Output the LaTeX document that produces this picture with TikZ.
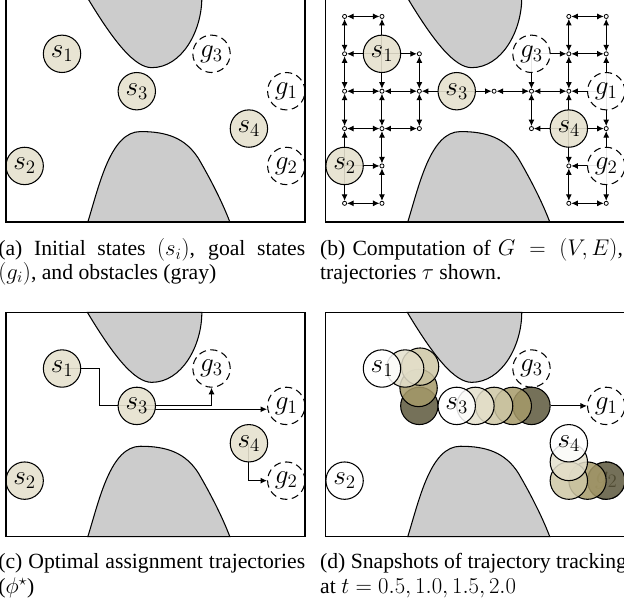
\documentclass[tikz,border=0pt]{standalone}
\usepackage[no-math]{fontspec}
\setmainfont{Liberation Serif}
\usetikzlibrary{arrows.meta,backgrounds}

\definecolor{agentfill}{RGB}{229,225,206}
\definecolor{obstfill}{RGB}{204,204,204}
\definecolor{snapA}{RGB}{228,224,204}
\definecolor{snapB}{RGB}{206,199,165}
\definecolor{snapC}{RGB}{166,154,105}
\definecolor{snapD}{RGB}{93,88,60}

\newcommand\lbl{\fontsize{21}{24}\selectfont}
\newcommand\capfont{\fontsize{16.5}{19}\selectfont}

% the two gray obstacles, in panel coordinates (top-left corner at the origin)
\newcommand\drawobstacles{%
  \draw[obstacle] (2.18,0) .. controls (2.9,-1.2) and (3.45,-1.87) .. (3.9,-1.87)
    .. controls (4.7,-1.87) and (5.24,-0.9) .. (5.24,0) -- cycle;
  \draw[obstacle] (2.19,-6) .. controls (2.5,-5.0) and (2.8,-3.58) .. (3.6,-3.58)
    .. controls (4.3,-3.58) and (4.8,-3.75) .. (5.15,-4.3)
    .. controls (5.5,-4.9) and (5.8,-5.5) .. (5.99,-6) -- cycle;
}
\newcommand\drawframe{\draw[frame] (0,0) rectangle (8,-6);}

\tikzset{
  agent/.style={circle, draw, line width=0.8pt, fill=agentfill, fill opacity=0.9,
    text opacity=1, minimum size=1cm, inner sep=0pt, font=\lbl},
  goal/.style={circle, draw, line width=0.8pt, dash pattern=on 5.5pt off 3.4pt,
    fill=white, fill opacity=0.9, text opacity=1, minimum size=1cm, inner sep=0pt, font=\lbl},
  snap/.style={agent, fill=#1, fill opacity=0.85},
  vtx/.style={circle, draw, line width=0.6pt, fill=white, minimum size=0.11cm, inner sep=0pt},
  traj/.style={line width=0.75pt, -{Latex[length=5pt,width=4.6pt]}},
  bitraj/.style={line width=0.75pt, {Latex[length=5pt,width=4.6pt]}-{Latex[length=5pt,width=4.6pt]}},
  route/.style={line width=0.8pt, -{Latex[length=5pt,width=4.6pt]}},
  obstacle/.style={draw, line width=0.8pt, fill=obstfill},
  frame/.style={draw, line width=0.8pt},
  captext/.style={inner sep=0pt, anchor=base west, font=\capfont},
}

\begin{document}
\begin{tikzpicture}
\useasboundingbox (0,0) rectangle (16.696,-16.160);

% ---------------- (a) initial states and goals ----------------
\begin{scope}[shift={(0.16,0.06)}, name prefix=a-]
  \drawobstacles
  \node[agent] (s1) at (1.5,-1.5) {$s_1$};
  \node[agent] (s3) at (3.5,-2.5) {$s_3$};
  \node[agent] (s4) at (6.5,-3.5) {$s_4$};
  \node[agent] (s2) at (0.5,-4.5) {$s_2$};
  \node[goal] (g3) at (5.5,-1.5) {$g_3$};
  \node[goal] (g1) at (7.5,-2.5) {$g_1$};
  \node[goal] (g2) at (7.5,-4.5) {$g_2$};
  \drawframe
\end{scope}

% ---------------- (b) graph G = (V,E) ----------------
\begin{scope}[shift={(8.72,0.06)}, name prefix=b-]
  \foreach \i/\j in {0/0,1/0,6/0,7/0, 0/1,2/1,6/1,7/1,
                     0/2,1/2,2/2,4/2,5/2,6/2, 0/3,1/3,2/3,5/3,7/3,
                     1/4,6/4, 0/5,1/5,6/5,7/5}
    \node[vtx] (v\i\j) at (0.5+\i,-0.5-\j) {};
  \node[agent] (s1) at (1.5,-1.5) {$s_1$};
  \node[agent] (s3) at (3.5,-2.5) {$s_3$};
  \node[agent] (s4) at (6.5,-3.5) {$s_4$};
  \node[agent] (s2) at (0.5,-4.5) {$s_2$};
  \node[goal] (g3) at (5.5,-1.5) {$g_3$};
  \node[goal] (g1) at (7.5,-2.5) {$g_1$};
  \node[goal] (g2) at (7.5,-4.5) {$g_2$};
  \begin{scope}[on background layer]
    \drawobstacles
    \foreach \a/\b in {00/10,60/70,00/01,60/61,70/71,61/71,01/02,21/22,61/62,
                       02/12,12/22,42/52,52/62,02/03,12/13,22/23,52/53,
                       03/13,13/23,13/14,14/15,64/65,05/15,65/75}
      \draw[bitraj] (v\a) -- (v\b);
    \foreach \s/\v in {s1/10,s1/01,s1/21,s1/12, g3/61,g3/52, g1/71,g1/62,g1/73,
                       s3/22,s3/42, s4/62,s4/53,s4/73,s4/64, s2/03,s2/14,s2/05,
                       g2/73,g2/64,g2/75}
      \draw[traj] (\s.center) -- (v\v);
  \end{scope}
  \drawframe
\end{scope}

% ---------------- (c) optimal assignment ----------------
\begin{scope}[shift={(0.16,-8.36)}, name prefix=c-]
  \node[agent] (s1) at (1.5,-1.5) {$s_1$};
  \node[agent] (s3) at (3.5,-2.5) {$s_3$};
  \node[agent] (s4) at (6.5,-3.5) {$s_4$};
  \node[agent] (s2) at (0.5,-4.5) {$s_2$};
  \node[goal] (g3) at (5.5,-1.5) {$g_3$};
  \node[goal] (g1) at (7.5,-2.5) {$g_1$};
  \node[goal] (g2) at (7.5,-4.5) {$g_2$};
  \begin{scope}[on background layer]
    \drawobstacles
    \draw[route] (s1.center) -- (2.5,-1.5) -- (2.5,-2.5) -- (5.5,-2.5) -- (g3);
    \draw[route] ([yshift=-0.09cm]s3.center) -- ([yshift=-0.09cm]g1.west);
    \draw[route] (s4.center) -- (6.5,-4.5) -- (g2);
  \end{scope}
  \drawframe
\end{scope}

% ---------------- (d) tracking snapshots ----------------
\begin{scope}[shift={(8.72,-8.36)}, name prefix=d-]
  \drawobstacles
  \node[goal] (g3) at (5.5,-1.5) {$g_3$};
  \node[goal] (g1) at (7.5,-2.5) {$g_1$};
  \node[goal] (g2) at (7.5,-4.5) {$g_2$};
  \node[snap=white] (s2) at (0.5,-4.5) {$s_2$};
  % agent 1
  \node[snap=snapD] (s1d) at (2.5,-2.5) {};
  \node[snap=snapC] (s1c) at (2.48,-2.02) {};
  \node[snap=snapB] (s1b) at (2.52,-1.45) {};
  \node[snap=snapA] (s1a) at (2.12,-1.5) {};
  \node[snap=white] (s1) at (1.5,-1.5) {$s_1$};
  % agent 3
  \node[snap=snapD] (s3d) at (5.5,-2.5) {};
  \node[snap=snapC] (s3c) at (5.0,-2.5) {};
  \node[snap=snapB] (s3b) at (4.5,-2.5) {};
  \node[snap=snapA] (s3a) at (4.0,-2.5) {};
  \node[snap=white] (s3) at (3.5,-2.5) {$s_3$};
  % agent 4
  \node[snap=snapD] (s4d) at (7.5,-4.5) {};
  \node[snap=snapC] (s4c) at (7.0,-4.5) {};
  \node[snap=snapB] (s4b) at (6.5,-4.5) {};
  \node[snap=snapA] (s4a) at (6.5,-4.0) {};
  \node[snap=white] (s4) at (6.5,-3.5) {$s_4$};
  \draw[route] (s3d) -- (g1);
  \drawframe
\end{scope}

% ---------------- captions ----------------
\node[captext] (capa1) at (-0.05,-6.84) {\makebox[8.21cm][s]{(a) Initial states $(s_i)$, goal states}};
\node[captext] (capa2) at (-0.05,-7.47) {$(g_i)$, and obstacles (gray)};
\node[captext] (capb1) at (8.56,-6.84) {\makebox[8.1cm][s]{(b) Computation of $G\,=\,(V,E)$,}};
\node[captext] (capb2) at (8.56,-7.47) {trajectories $\tau$ shown.};
\node[captext] (capc1) at (-0.05,-15.22) {\makebox[8.21cm][s]{(c) Optimal assignment trajectories}};
\node[captext] (capc2) at (-0.05,-15.88) {($\phi^\star$)};
\node[captext] (capd1) at (8.56,-15.22) {\makebox[8.21cm][s]{(d) Snapshots of trajectory tracking}};
\node[captext] (capd2) at (8.56,-15.88) {at $t=0.5, 1.0, 1.5, 2.0$};
\end{tikzpicture}
\end{document}
